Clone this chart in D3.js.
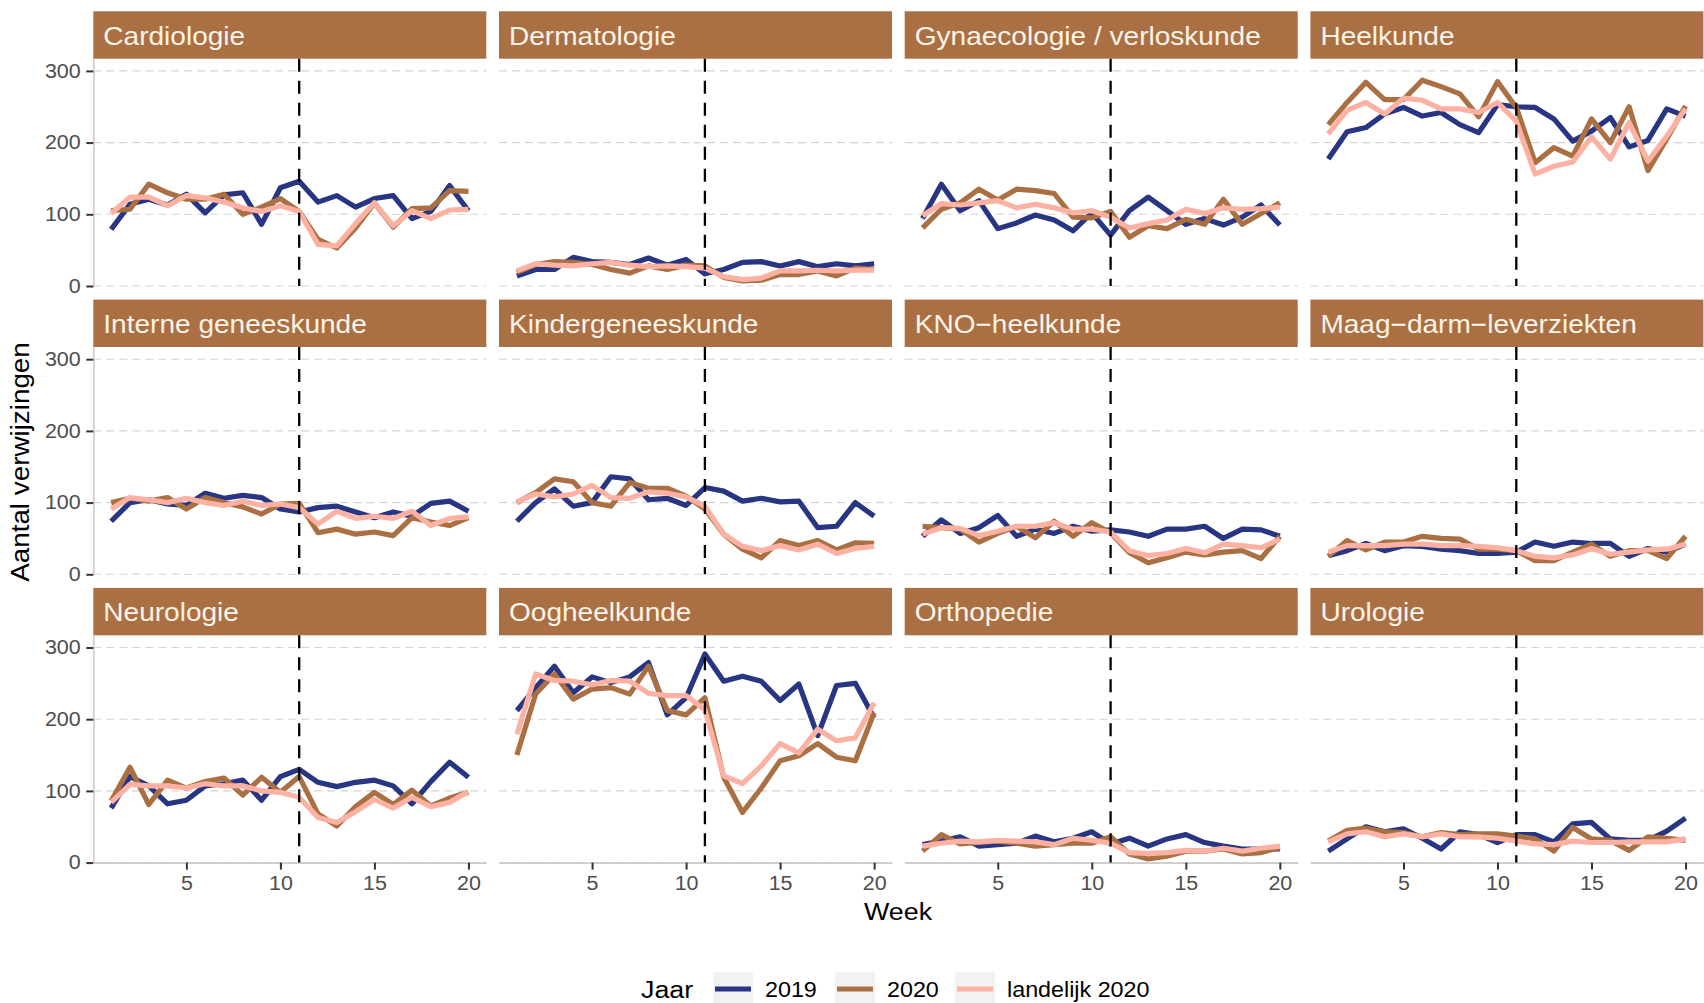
<!DOCTYPE html>
<html>
<head>
<meta charset="utf-8">
<script src="https://cdn.jsdelivr.net/npm/d3@7"></script>
<style>
  body { margin: 0; background: #fff; }
  text { font-family: "Liberation Sans", Arial, sans-serif; }
</style>
</head>
<body>
<div id="chart"></div>
<script>
// verwijzingen per week, week 1 t/m 20
const specialismen = ['Cardiologie', 'Dermatologie', 'Gynaecologie / verloskunde', 'Heelkunde',
    'Interne geneeskunde', 'Kindergeneeskunde', 'KNO−heelkunde', 'Maag−darm−leverziekten',
    'Neurologie', 'Oogheelkunde', 'Orthopedie', 'Urologie'];
const weken = [1, 2, 3, 4, 5, 6, 7, 8, 9, 10, 11, 12, 13, 14, 15, 16, 17, 18, 19, 20];

const verwijzingen2019 = [
    [79, 114, 121, 113, 128, 102, 127, 130, 86, 137, 146, 117, 126, 110, 122, 126, 94, 104, 140, 105],
    [14, 23, 23, 40, 34, 33, 30, 39, 29, 37, 17, 23, 33, 34, 28, 34, 27, 31, 28, 31],
    [94, 142, 105, 119, 80, 88, 99, 92, 77, 102, 71, 105, 124, 105, 86, 94, 85, 96, 113, 85],
    [177, 215, 221, 240, 249, 237, 242, 225, 214, 253, 250, 249, 233, 202, 216, 235, 194, 203, 247, 237],
    [74, 100, 104, 98, 96, 113, 106, 110, 107, 91, 87, 93, 95, 87, 79, 87, 81, 99, 102, 88],
    [74, 100, 119, 95, 100, 136, 133, 104, 106, 96, 121, 116, 102, 106, 101, 102, 65, 67, 100, 81],
    [53, 76, 57, 65, 82, 53, 63, 57, 67, 60, 62, 59, 53, 63, 63, 67, 50, 63, 62, 53],
    [26, 33, 43, 33, 40, 39, 35, 33, 29, 29, 31, 45, 39, 45, 43, 43, 25, 36, 31, 42],
    [76, 120, 107, 82, 87, 107, 110, 115, 87, 120, 130, 112, 106, 112, 115, 107, 82, 113, 140, 119],
    [212, 244, 274, 237, 259, 251, 259, 279, 206, 230, 291, 253, 260, 253, 226, 249, 177, 247, 250, 202],
    [25, 30, 36, 23, 25, 27, 37, 29, 34, 43, 26, 34, 23, 33, 39, 28, 23, 19, 19, 19],
    [16, 33, 50, 43, 47, 34, 19, 43, 39, 28, 39, 39, 29, 54, 56, 33, 31, 31, 44, 62]
];
const verwijzingen2020 = [
    [105, 107, 142, 130, 121, 121, 128, 100, 110, 122, 104, 65, 53, 81, 116, 82, 108, 109, 133, 132],
    [19, 30, 34, 33, 30, 23, 18, 28, 23, 29, 28, 12, 7, 8, 16, 16, 21, 14, 25, 23],
    [81, 107, 116, 135, 120, 135, 133, 129, 96, 95, 104, 68, 84, 80, 93, 86, 121, 86, 101, 116],
    [225, 256, 284, 260, 260, 287, 278, 268, 236, 285, 249, 172, 193, 181, 233, 200, 250, 161, 205, 251],
    [100, 106, 102, 107, 91, 107, 100, 94, 84, 98, 99, 58, 63, 56, 59, 54, 79, 73, 68, 79],
    [100, 114, 133, 129, 100, 95, 128, 120, 120, 109, 91, 56, 35, 23, 47, 40, 47, 34, 44, 43],
    [67, 65, 63, 45, 57, 67, 51, 74, 53, 72, 58, 30, 16, 23, 31, 27, 31, 33, 22, 53],
    [25, 47, 34, 45, 45, 53, 50, 49, 35, 35, 33, 19, 19, 31, 42, 25, 33, 33, 22, 53],
    [86, 133, 81, 115, 104, 113, 118, 94, 119, 98, 120, 68, 51, 78, 98, 81, 101, 79, 90, 98],
    [150, 235, 263, 228, 242, 244, 235, 274, 212, 206, 230, 119, 70, 104, 142, 149, 166, 147, 142, 209],
    [16, 39, 26, 28, 30, 27, 23, 25, 27, 27, 36, 12, 5, 9, 16, 16, 19, 12, 14, 21],
    [30, 45, 48, 43, 42, 36, 42, 39, 40, 40, 37, 33, 16, 49, 33, 31, 17, 36, 34, 31]
];
const landelijk2020 = [
    [101, 124, 124, 112, 126, 123, 117, 109, 104, 112, 104, 58, 56, 87, 116, 84, 105, 94, 106, 107],
    [21, 31, 29, 28, 31, 33, 29, 27, 28, 27, 25, 13, 9, 11, 21, 21, 22, 21, 22, 22],
    [98, 115, 113, 116, 119, 109, 114, 109, 102, 105, 96, 81, 87, 92, 107, 101, 109, 107, 108, 110],
    [212, 245, 256, 240, 262, 259, 247, 247, 242, 256, 230, 156, 167, 173, 208, 177, 228, 174, 209, 247],
    [91, 107, 104, 100, 106, 100, 96, 102, 96, 98, 93, 70, 88, 78, 81, 78, 88, 68, 78, 80],
    [101, 112, 108, 112, 124, 107, 106, 115, 113, 108, 95, 56, 39, 33, 40, 34, 42, 29, 36, 39],
    [56, 65, 64, 54, 60, 67, 67, 72, 63, 63, 59, 33, 26, 29, 36, 30, 42, 40, 37, 49],
    [31, 40, 40, 40, 42, 42, 40, 40, 39, 37, 33, 25, 23, 27, 36, 28, 31, 34, 35, 42],
    [84, 109, 107, 107, 104, 110, 107, 107, 100, 98, 91, 63, 56, 71, 88, 76, 91, 78, 84, 99],
    [179, 263, 254, 253, 248, 254, 253, 236, 233, 233, 213, 121, 110, 135, 166, 153, 186, 170, 174, 223],
    [23, 27, 30, 29, 31, 30, 29, 25, 34, 31, 27, 14, 13, 14, 17, 16, 20, 16, 20, 23],
    [29, 40, 43, 36, 40, 36, 40, 36, 36, 34, 30, 26, 25, 30, 28, 28, 29, 29, 29, 33]
];

const jaren = ['2019', '2020', 'landelijk 2020'];
const yTicks = [0, 100, 200, 300];
const xTicks = [5, 10, 15, 20];
const lockdownWeek = 11;

const kleuren = ['#283582', '#AA7043', '#FCB1A2'];
const stripKleur = '#AA7043';

const width = 1704, height = 1003;
const left0 = 93.3, colStep = 405.7, panelW = 393;
const top0 = 11.3, rowStep = 288.3, stripH = 47.4, plotH = 227.3;
const stretch = 1.1; // tekst in het origineel is iets breder
const lijnDikte = 5.2;

const svg = d3.select('#chart').append('svg')
    .attr('width', width)
    .attr('height', height);

const x = d3.scaleLinear().domain([0.05, 20.95]).range([0, panelW]);
const y = d3.scaleLinear().domain([0, 317]).range([plotH, 0]);

const line = d3.line()
    .x((d, i) => x(weken[i]))
    .y(d => y(d));

function label(g, px, py, str, size, opts = {}) {
    const rot = opts.rotate ? ' rotate(-90)' : '';
    return g.append('text')
        .attr('transform', `translate(${px},${py})${rot} scale(${stretch},1)`)
        .attr('font-size', size)
        .attr('text-anchor', opts.anchor || 'start')
        .attr('fill', opts.fill || '#000')
        .text(str);
}

specialismen.forEach((naam, i) => {
    const col = i % 4, row = Math.floor(i / 4);
    const panel = svg.append('g')
        .attr('transform', `translate(${left0 + col * colStep},${top0 + row * rowStep})`);

    // strip
    panel.append('rect')
        .attr('width', panelW)
        .attr('height', stripH)
        .attr('fill', stripKleur);
    label(panel, 10, 33.4, naam, 25.5, { fill: '#FDF3E7' });

    const plot = panel.append('g').attr('transform', `translate(0,${stripH})`);

    // grid
    plot.selectAll('.grid')
        .data(yTicks)
        .enter().append('line')
        .attr('x1', 0).attr('x2', panelW)
        .attr('y1', d => y(d)).attr('y2', d => y(d))
        .attr('stroke', '#D4D4D4')
        .attr('stroke-width', 1.1)
        .attr('stroke-dasharray', '8,5');

    if (col === 0) {
        const ax = plot.append('g')
            .call(d3.axisLeft(y).tickValues(yTicks).tickSize(7).tickSizeOuter(0).tickPadding(5.6));
        ax.select('.domain').attr('stroke', '#CCCCCC').attr('stroke-width', 1.6);
        ax.selectAll('.tick line').attr('stroke', '#333').attr('stroke-width', 2);
        ax.selectAll('.tick text')
            .attr('x', -12.6 / stretch)
            .attr('transform', `scale(${stretch},1)`)
            .attr('font-size', 19.5)
            .attr('font-family', '"Liberation Sans", Arial, sans-serif')
            .attr('fill', '#4D4D4D');
    }
    if (row === 2) {
        const ax = plot.append('g')
            .attr('transform', `translate(0,${plotH})`)
            .call(d3.axisBottom(x).tickValues(xTicks).tickSize(7).tickSizeOuter(0).tickPadding(6.4));
        ax.select('.domain').attr('stroke', '#CCCCCC').attr('stroke-width', 1.6);
        ax.selectAll('.tick line').attr('stroke', '#333').attr('stroke-width', 2);
        ax.selectAll('.tick text')
            .attr('transform', `scale(${stretch},1)`)
            .attr('font-size', 19.5)
            .attr('font-family', '"Liberation Sans", Arial, sans-serif')
            .attr('fill', '#4D4D4D');
    }

    const series = [verwijzingen2019[i], verwijzingen2020[i], landelijk2020[i]];
    plot.selectAll('.serie')
        .data(series)
        .enter().append('path')
        .attr('d', line)
        .attr('fill', 'none')
        .attr('stroke', (d, j) => kleuren[j])
        .attr('stroke-width', lijnDikte)
        .attr('stroke-linejoin', 'round');

    plot.append('line')
        .attr('x1', x(lockdownWeek)).attr('x2', x(lockdownWeek))
        .attr('y1', 0).attr('y2', plotH)
        .attr('stroke', '#000')
        .attr('stroke-width', 2.3)
        .attr('stroke-dasharray', '13,9');
});

// as-titels
label(svg, 898, 919.5, 'Week', 24.4, { anchor: 'middle' });
label(svg, 29, 462, 'Aantal verwijzingen', 25.3, { anchor: 'middle', rotate: true });

// legenda
const legend = svg.append('g');
label(legend, 641, 998, 'Jaar', 24.4);
const keyX = [713, 835, 955];
jaren.forEach((jaar, j) => {
    const k = legend.append('g').attr('transform', `translate(${keyX[j]},972)`);
    k.append('rect').attr('width', 40).attr('height', 34).attr('fill', '#F2F2F2');
    k.append('line')
        .attr('x1', 2).attr('x2', 38)
        .attr('y1', 17).attr('y2', 17)
        .attr('stroke', kleuren[j])
        .attr('stroke-width', lijnDikte);
    label(k, 52, 24.5, jaar, 21.2);
});
</script>
</body>
</html>
